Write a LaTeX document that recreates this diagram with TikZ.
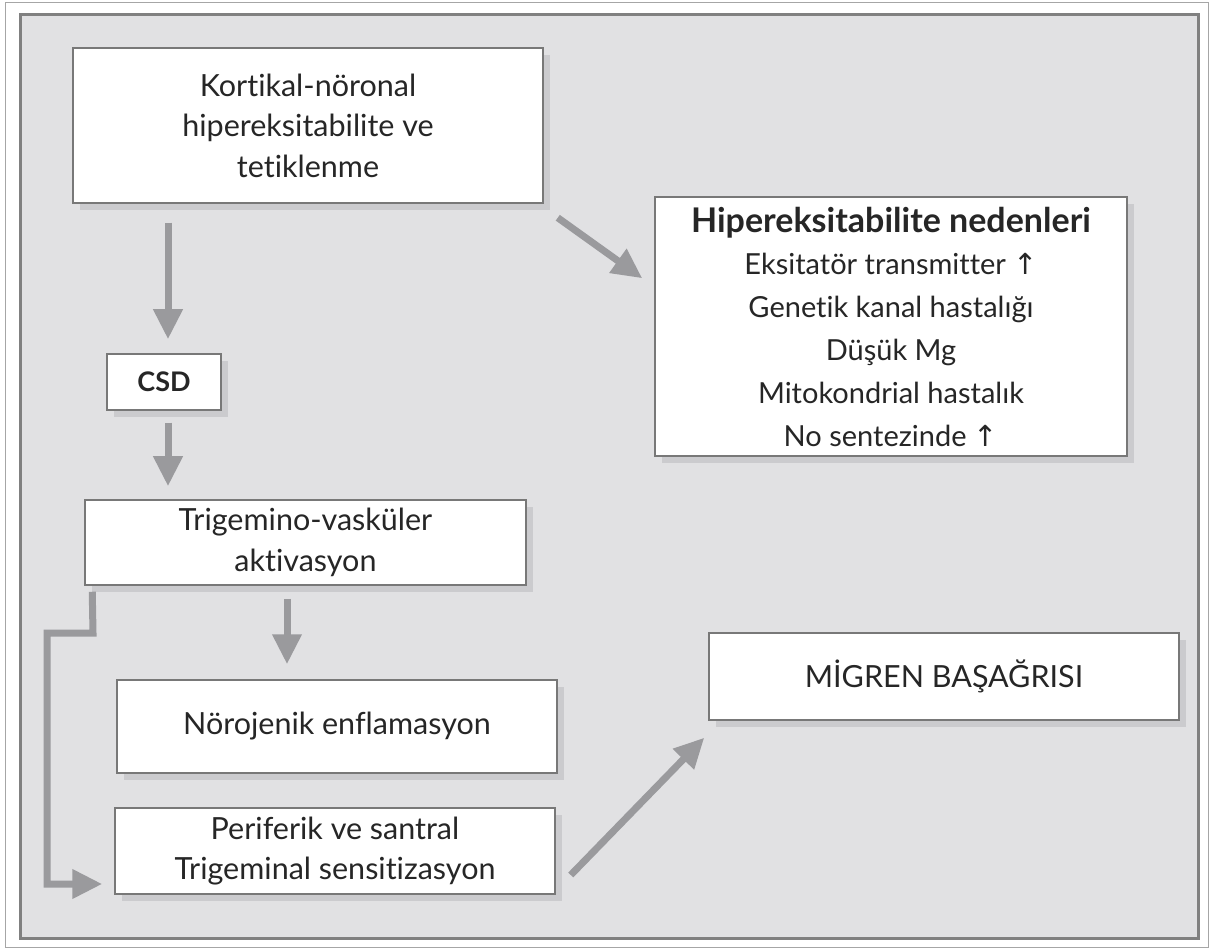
\documentclass[tikz,border=0pt]{standalone}
\usepackage{fontspec}
\setmainfont{Lato}[Ligatures={NoCommon,NoRare}]
\newfontfamily\symfont{DejaVu Sans}
\usetikzlibrary{arrows.meta,shadows}
\definecolor{panel}{HTML}{E1E1E3}
\definecolor{panelline}{HTML}{808080}
\definecolor{shade}{HTML}{CBCBCE}
\definecolor{arrowgray}{HTML}{9A9A9D}
\definecolor{boxline}{HTML}{787878}
\newcommand{\up}{{\symfont\char"2191}}
\tikzset{
  box/.style={draw=boxline, line width=1.5pt, fill=white, align=center, inner sep=0pt,
    font=\fontsize{30.5}{40.5}\selectfont, text=black!85,
    drop shadow={shadow xshift=7pt, shadow yshift=-7pt, fill=shade, opacity=1}},
  arr/.style={draw=arrowgray, line width=7pt, -{Triangle[length=30pt,width=28pt]}},
  elbow/.style={draw=arrowgray, line width=7pt, -{Triangle[length=30pt,width=28pt]}}
}
\begin{document}
\begin{tikzpicture}[x=1pt,y=-1pt]
\useasboundingbox (0,0) rectangle (1211,949);
\draw[gray!70, line width=1pt] (5,3) rectangle (1208,947);
\draw[fill=panel, draw=panelline, line width=3pt] (20,15) rectangle (1198,938);

\node[box, minimum width=470pt, minimum height=155pt] (kort) at (308,125.5)
  {Kortikal-nöronal\\hipereksitabilite ve\\tetiklenme};
\node[box, minimum width=472pt, minimum height=259pt, font=\fontsize{29}{42.8}\selectfont] (hip) at (891,326.5)
  {{\bfseries\fontsize{34}{42.8}\selectfont Hipereksitabilite nedenleri}\\Eksitatör transmitter \up\\Genetik kanal hastalığı\\Düşük Mg\\Mitokondrial hastalık\\No sentezinde \up};
\node[box, minimum width=114pt, minimum height=56pt, font=\bfseries\fontsize{27}{41}\selectfont] (csd) at (164,382) {CSD};
\node[box, minimum width=441pt, minimum height=85pt] (trig) at (305.5,542.5)
  {Trigemino-vasküler\\aktivasyon};
\node[box, minimum width=440pt, minimum height=93pt] (noro) at (337,726.5)
  {Nörojenik enflamasyon};
\node[box, minimum width=440pt, minimum height=86pt] (peri) at (335,851)
  {Periferik ve santral\\Trigeminal sensitizasyon};
\node[box, minimum width=470pt, minimum height=87pt] (mig) at (944,676.5)
  {MİGREN BAŞAĞRISI};

\draw[arr] ([xshift=4pt,yshift=-19pt]kort.south -| csd.south) -- ([xshift=4pt,yshift=14pt]csd.north);
\draw[arr] ([xshift=4pt,yshift=-12pt]csd.south) -- ([xshift=4pt,yshift=13pt]csd.south |- trig.north);
\draw[arr] ([xshift=14pt,yshift=-14pt]kort.south east) -- ([xshift=-12pt,yshift=-82pt]hip.north west);
\draw[arr] ([yshift=-13pt]trig.south -| 287,0) -- ([yshift=15pt]noro.north -| 287,0);
\coordinate (e1) at (93,633);
\coordinate (e2) at (47,633);
\draw[elbow] ([xshift=8pt,yshift=-6pt]trig.south west) -- (e1) -- (e2) -- (e2 |- 0,884) -- ([xshift=-12pt,yshift=-33pt]peri.west);
\draw[arr] ([xshift=15pt,yshift=-24pt]peri.east) -- ([xshift=-4pt,yshift=-17pt]mig.south west);
\end{tikzpicture}
\end{document}
